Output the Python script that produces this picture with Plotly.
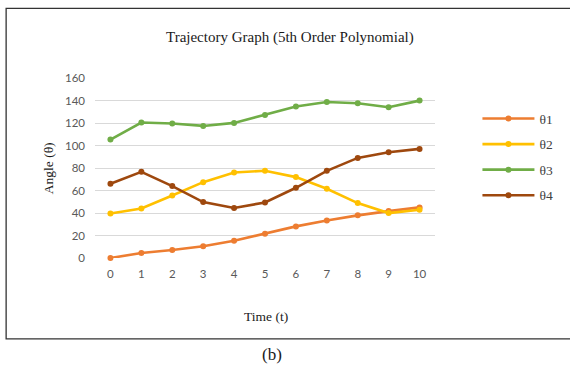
import plotly.graph_objects as go

time_t = [0, 1, 2, 3, 4, 5, 6, 7, 8, 9, 10]
theta1 = [0, 4.4, 7.1, 10.4, 15.4, 21.6, 28.1, 33.4, 37.9, 41.7, 45.0]
theta2 = [39.6, 44.0, 55.6, 67.4, 76.0, 77.5, 71.9, 61.5, 48.8, 39.9, 42.9]
theta3 = [105.3, 120.4, 119.5, 117.4, 120.1, 127.2, 134.6, 138.7, 137.6, 134.0, 139.9]
theta4 = [66.0, 76.6, 63.9, 49.7, 44.4, 49.4, 62.4, 77.5, 89.0, 94.0, 97.0]
series_names = ["θ1", "θ2", "θ3", "θ4"]
series_colors = ["#ED7D31", "#FFC000", "#70AD47", "#9E480E"]
y_ticks = [0, 20, 40, 60, 80, 100, 120, 140, 160]

W, H = 570, 367
L, R, T, B = 95, 134.5, 77.7, 109
pw, ph = W - L - R, H - T - B

fig = go.Figure()
for i, (name, vals, col) in enumerate(zip(series_names, [theta1, theta2, theta3, theta4], series_colors)):
    fig.add_trace(go.Scatter(
        x=time_t, y=vals, name=name, mode="lines+markers",
        line=dict(color=col, width=2.6), marker=dict(color=col, size=6),
        legendgroup=f"g{i}", cliponaxis=False,
    ))

serif = "Liberation Serif, Times New Roman, serif"
tick_font = dict(family="Lato, Carlito, sans-serif", size=11.5, color="#595959")

def px_x(p):
    return (p - L) / pw

def px_y(p):
    return (H - B - p) / ph

fig.update_layout(
    width=W, height=H,
    margin=dict(l=L, r=R, t=T, b=B, autoexpand=False),
    paper_bgcolor="white", plot_bgcolor="white",
    showlegend=True,
    legend=dict(
        x=px_x(478), y=px_y(103), xanchor="left", yanchor="top",
        font=dict(family=serif, size=13.5, color="#404040"),
        tracegroupgap=5, itemwidth=52, bgcolor="rgba(0,0,0,0)",
    ),
    xaxis=dict(
        range=[-0.5, 10.5], tickmode="array", tickvals=time_t,
        ticktext=[str(t) for t in time_t],
        showgrid=False, zeroline=False, showline=False, ticks="",
        tickfont=tick_font, ticklabelstandoff=7,
    ),
    yaxis=dict(
        range=[0, 160], tickmode="array", tickvals=y_ticks,
        showgrid=True, gridcolor="#D9D9D9", gridwidth=1,
        zeroline=False, showline=False, ticks="", ticklen=0,
        tickfont=tick_font, ticklabelstandoff=9,
    ),
    font=dict(family=serif),
)

annotations = [
    dict(text="Trajectory Graph (5th Order Polynomial)", x=px_x(290), y=px_y(37),
         font=dict(family=serif, size=15, color="#1a1a1a")),
    dict(text="Angle (θ)", x=px_x(48), y=px_y(168), textangle=-90,
         font=dict(family=serif, size=13.5, color="#1a1a1a")),
    dict(text="Time (t)", x=px_x(266), y=px_y(317),
         font=dict(family=serif, size=13.5, color="#1a1a1a")),
    dict(text="(b)", x=px_x(272), y=px_y(355),
         font=dict(family=serif, size=17, color="#1a1a1a")),
]
for a in annotations:
    a.update(xref="paper", yref="paper", showarrow=False, xanchor="center", yanchor="middle")
fig.update_layout(annotations=annotations)

fig.add_shape(type="rect", xref="paper", yref="paper",
              x0=px_x(6), x1=px_x(575), y0=px_y(339), y1=px_y(8),
              line=dict(color="#333333", width=1.3), fillcolor="rgba(0,0,0,0)", layer="below")

fig.write_html("out.html", config={"displayModeBar": False},
               post_script="document.body.style.margin='0';document.body.style.overflow='hidden';")
